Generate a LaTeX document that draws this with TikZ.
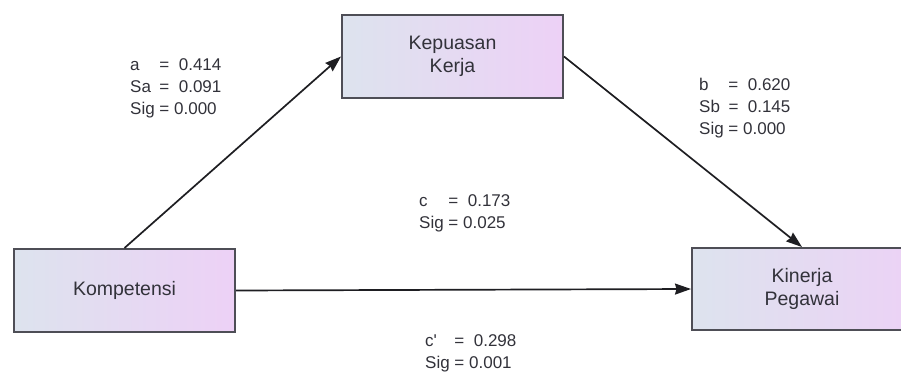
\documentclass[tikz,border=0pt]{standalone}
\usepackage{fontspec}
\setmainfont{Liberation Sans}
\usetikzlibrary{arrows.meta}
\definecolor{boxleft}{RGB}{221,227,238}
\definecolor{boxright}{RGB}{237,209,246}
\definecolor{boxline}{RGB}{78,78,86}
\definecolor{txt}{RGB}{50,50,58}
\definecolor{arr}{RGB}{30,30,34}
\begin{document}
\begin{tikzpicture}[x=1pt,y=-1pt,
  varbox/.style={draw=boxline, line width=2pt, left color=boxleft, right color=boxright,
    shading angle=90, minimum width=221pt, minimum height=83pt, inner sep=0pt,
    align=center, text=txt, font=\fontsize{19.5}{23}\selectfont},
  stat/.style={anchor=west, inner sep=0pt, text=txt, font=\fontsize{17}{22}\selectfont},
  link/.style={draw=arr, line width=1.7pt, -{Stealth[length=16pt,width=11pt,inset=1.5pt]}}]
\useasboundingbox (0,0) rectangle (901,372);
\clip (0,0) rectangle (901,372);
\fill[white] (0,0) rectangle (901,372);
\node[varbox] (komp) at (124.5,290.5) {Kompetensi};
\node[varbox] (kep) at (452.5,56.5) {Kepuasan\\Kerja};
\node[varbox, minimum width=236pt, minimum height=82pt] (kin) at (810,289) {\hspace*{-16pt}Kinerja\\\hspace*{-16pt}Pegawai};
\draw[link] (komp.north) -- (kep.west);
\draw[link] (kep.east) -- (kin.north -| 802,0);
\draw[link] (komp.east) -- (kin.west);
\node[stat] (la) at (130,88) {\begin{tabular}{@{}l@{\ }l@{}}a & =\ \ 0.414\\ Sa & =\ \ 0.091\\ Sig & = 0.000\end{tabular}};
\node[stat] (lb) at (699,108) {\begin{tabular}{@{}l@{\ }l@{}}b & =\ \ 0.620\\ Sb & =\ \ 0.145\\ Sig & = 0.000\end{tabular}};
\node[stat] (lc) at (419,213) {\begin{tabular}{@{}l@{\ }l@{}}c & =\ \ 0.173\\ Sig & = 0.025\end{tabular}};
\node[stat] (lcp) at (425,353) {\begin{tabular}{@{}l@{\ }l@{}}c\textquotesingle & =\ \ 0.298\\ Sig & = 0.001\end{tabular}};
\end{tikzpicture}
\end{document}
